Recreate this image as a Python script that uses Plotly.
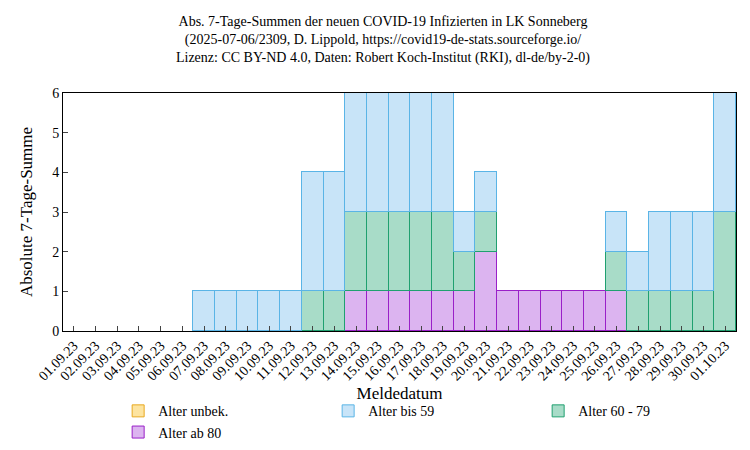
import plotly.graph_objects as go

dates = ["01.09.23","02.09.23","03.09.23","04.09.23","05.09.23","06.09.23","07.09.23","08.09.23","09.09.23","10.09.23",
         "11.09.23","12.09.23","13.09.23","14.09.23","15.09.23","16.09.23","17.09.23","18.09.23","19.09.23","20.09.23",
         "21.09.23","22.09.23","23.09.23","24.09.23","25.09.23","26.09.23","27.09.23","28.09.23","29.09.23","30.09.23","01.10.23"]
unbek = [0]*31
ab80 =   [0,0,0,0,0,0,0,0,0,0, 0,0,0,1,1,1,1,1,1,2, 1,1,1,1,1,1,0,0,0,0,0]
a60_79 = [0,0,0,0,0,0,0,0,0,0, 0,1,1,2,2,2,2,2,1,1, 0,0,0,0,0,1,1,1,1,1,3]
bis59 =  [0,0,0,0,0,0,1,1,1,1, 1,3,3,3,3,3,3,3,1,1, 0,0,0,0,0,1,1,2,2,2,3]

F = "Liberation Serif"
fig = go.Figure()
series = [("Alter ab 80", ab80, "#dcb4f0", "#9a20c8"),
          ("Alter 60 - 79", a60_79, "#a8dcc8", "#20a070"),
          ("Alter bis 59", bis59, "#c8e4f8", "#5ab4e6"),
          ("Alter unbek.", unbek, "#fde4a0", "#e8a820")]
for name, vals, fc, lc in series:
    fig.add_trace(go.Bar(x=dates, y=[v if v else None for v in vals], name=name,
                         marker=dict(color=fc, line=dict(color=lc, width=1))))

fig.update_layout(
    barmode="stack", bargap=0, width=750, height=450,
    plot_bgcolor="white", paper_bgcolor="white",
    font=dict(family=F, size=14, color="black"),
    margin=dict(l=55, r=10, t=85, b=100),
    title=dict(text="Abs. 7-Tage-Summen der neuen COVID-19 Infizierten in LK Sonneberg<br>(2025-07-06/2309, D. Lippold, https://covid19-de-stats.sourceforge.io/<br>Lizenz: CC BY-ND 4.0, Daten: Robert Koch-Institut (RKI), dl-de/by-2-0)",
               x=0.5, xanchor="center", y=0.96, yanchor="top", font=dict(size=14)),
    legend=dict(orientation="h", x=0.55, xanchor="center", y=-0.27, yanchor="top",
                traceorder="reversed", font=dict(size=14), entrywidth=165,
                itemwidth=30),
    xaxis=dict(title=dict(text="Meldedatum", standoff=0), tickangle=-45, showline=True, mirror=True,
               linecolor="black", ticks="inside", range=[-0.5, 30.5]),
    yaxis=dict(title="Absolute 7-Tage-Summe", range=[0, 6], dtick=1, showline=True, mirror=True,
               linecolor="black", ticks="inside", showgrid=False, zeroline=False),
)
fig.write_html("out.html")
